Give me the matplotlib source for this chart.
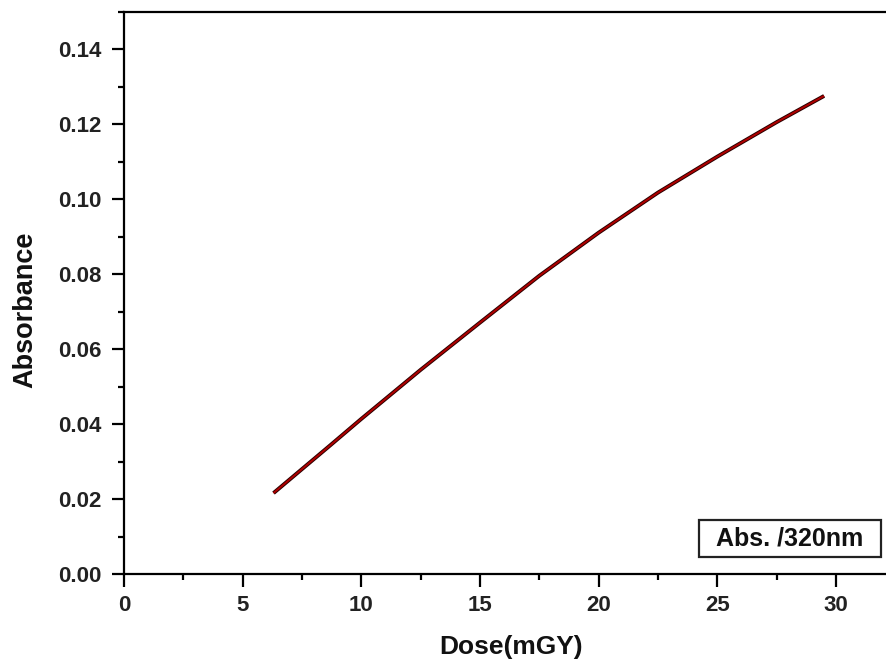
import matplotlib
matplotlib.use("Agg")
import matplotlib.pyplot as plt
from matplotlib.ticker import MultipleLocator
from matplotlib.patches import Rectangle
import matplotlib.patheffects as pe

plt.rcParams['font.family'] = ['Liberation Sans', 'DejaVu Sans']
plt.rcParams['font.weight'] = 'bold'

dose = [6.3, 8.7, 10.0, 12.5, 15.0, 17.5, 20.0, 22.5, 25.0, 27.5, 29.5]
absorbance = [0.0216, 0.0344, 0.0414, 0.0545, 0.0671, 0.0796, 0.0911, 0.1018, 0.1114, 0.1206, 0.1276]
legend_label = "Abs. /320nm"
x_ticks = [0, 5, 10, 15, 20, 25, 30]
y_ticks = [0.00, 0.02, 0.04, 0.06, 0.08, 0.10, 0.12, 0.14]

W, H = 887, 660
fig = plt.figure(figsize=(W / 100, H / 100), dpi=100)
left, right, bottom, top = 124, 887, 574, 12
ax = fig.add_axes([left / W, (H - bottom) / H, (right - left) / W, (bottom - top) / H])

ax.plot(dose, absorbance, color='#b00000', lw=1.4, solid_capstyle='butt',
        path_effects=[pe.Stroke(linewidth=2.8, foreground='#2a0000'), pe.Normal()])

ax.set_xlim(0, 32.15)
ax.set_ylim(0, 0.15)
ax.set_xticks(x_ticks)
ax.set_yticks(y_ticks)
ax.set_yticklabels([f"{v:.2f}" for v in y_ticks])
ax.xaxis.set_minor_locator(MultipleLocator(2.5))
ax.yaxis.set_minor_locator(MultipleLocator(0.01))

for s in ['left', 'bottom', 'top']:
    ax.spines[s].set_linewidth(1.6)
ax.spines['right'].set_visible(False)

ax.tick_params(which='major', direction='out', length=9, width=1.6, labelsize=16, pad=7)
ax.tick_params(which='minor', direction='out', length=4.5, width=1.6)
ax.tick_params(top=False, right=False, which='both')
ax.tick_params(axis='x', pad=6)
for lbl in ax.get_xticklabels() + ax.get_yticklabels():
    lbl.set_fontweight('bold')
    lbl.set_color('#222222')

fig.text(511 / W, 1 - 647 / H, "Dose(mGY)", ha='center', va='center', fontsize=19, fontweight='bold', color='#111111')
fig.text(25 / W, 1 - 310 / H, "Absorbance", ha='center', va='center', rotation=90, fontsize=19.5, fontweight='bold', color='#111111')

# legend box
bx0, bx1, by0, by1 = 699, 881, 557, 520
ax.add_patch(Rectangle(((bx0 - left) / (right - left), (bottom - by0) / (bottom - top)),
                       (bx1 - bx0) / (right - left), (by0 - by1) / (bottom - top),
                       transform=ax.transAxes, facecolor='white', edgecolor='#222222',
                       linewidth=1.6, zorder=5))
ax.text((790 - left) / (right - left), (bottom - 538.5) / (bottom - top), legend_label,
        transform=ax.transAxes, ha='center', va='center', fontsize=18, fontweight='bold',
        color='#111111', zorder=6)

fig.savefig("out.png", dpi=100)
